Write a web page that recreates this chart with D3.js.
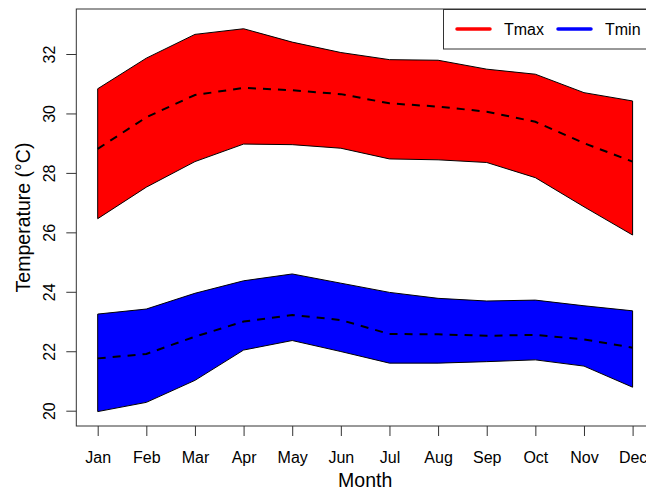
<!DOCTYPE html>
<html>
<head>
<meta charset="utf-8">
<script src="https://cdn.jsdelivr.net/npm/d3@7"></script>
<style>
  html, body { margin: 0; padding: 0; background: #fff; }
  svg { display: block; font-family: "Liberation Sans", Arial, Helvetica, sans-serif; }
</style>
</head>
<body>
<svg id="chart" width="646" height="491"></svg>
<script>
// Monthly temperature ranges (°C)
const months = ["Jan", "Feb", "Mar", "Apr", "May", "Jun", "Jul", "Aug", "Sep", "Oct", "Nov", "Dec"];

const tmaxUpper = [30.83, 31.86, 32.66, 32.85, 32.40, 32.05, 31.81, 31.79, 31.49, 31.32, 30.70, 30.42];
const tmaxMean  = [28.81, 29.87, 30.62, 30.86, 30.78, 30.65, 30.34, 30.23, 30.06, 29.72, 29.00, 28.38];
const tmaxLower = [26.46, 27.52, 28.38, 28.97, 28.95, 28.83, 28.47, 28.44, 28.35, 27.84, 26.86, 25.91];

const tminUpper = [23.25, 23.42, 23.95, 24.37, 24.60, 24.29, 23.98, 23.78, 23.69, 23.72, 23.53, 23.36];
const tminMean  = [21.76, 21.91, 22.49, 23.00, 23.22, 23.05, 22.58, 22.57, 22.52, 22.55, 22.40, 22.12];
const tminLower = [19.97, 20.28, 21.02, 22.04, 22.36, 21.99, 21.60, 21.60, 21.65, 21.71, 21.50, 20.79];

const yTicks = [20, 22, 24, 26, 28, 30, 32];
const seriesNames = ["Tmax", "Tmin"];
const seriesColors = ["#ff0000", "#0000ff"];

const svg = d3.select("#chart");
const plot = { left: 76.3, right: 654, top: 9, bottom: 426 };

const x = d3.scaleLinear().domain([0.56, 12.44]).range([plot.left, plot.right]);
const y = d3.scaleLinear().domain([19.485, 33.514]).range([plot.bottom, plot.top]);

const idx = months.map((m, i) => i + 1);

// Shaded band between lower and upper bounds
function band(lower, upper, color) {
  const area = d3.area()
    .x((d, i) => x(idx[i]))
    .y0((d, i) => y(lower[i]))
    .y1((d, i) => y(upper[i]));
  svg.append("path")
    .attr("d", area(upper) + "")
    .attr("fill", color)
    .attr("stroke", "#000")
    .attr("stroke-width", 1)
    .attr("stroke-linejoin", "miter");
}

function dashed(values) {
  const line = d3.line().x((d, i) => x(idx[i])).y(d => y(d));
  svg.append("path")
    .attr("d", line(values))
    .attr("fill", "none")
    .attr("stroke", "#000")
    .attr("stroke-width", 2)
    .attr("stroke-dasharray", "8,7")
    .attr("stroke-linecap", "butt");
}

band(tmaxLower, tmaxUpper, seriesColors[0]);
band(tminLower, tminUpper, seriesColors[1]);
dashed(tmaxMean);
dashed(tminMean);

// Plot frame
svg.append("rect")
  .attr("x", plot.left).attr("y", plot.top)
  .attr("width", plot.right - plot.left).attr("height", plot.bottom - plot.top)
  .attr("fill", "none").attr("stroke", "#333").attr("stroke-width", 1);

// X axis (ticks below the frame)
const xAxis = d3.axisBottom(x)
  .tickValues(idx)
  .tickFormat((d, i) => months[i])
  .tickSize(10)
  .tickPadding(16);
const gx = svg.append("g").attr("transform", `translate(0,${plot.bottom})`).call(xAxis);
gx.select(".domain").remove();
gx.selectAll(".tick line").attr("stroke", "#333");
gx.selectAll(".tick text").attr("font-size", 16).attr("fill", "#000")
  .attr("font-family", "Liberation Sans, Arial, sans-serif");

// Y axis with rotated tick labels
const yAxis = d3.axisLeft(y).tickValues(yTicks).tickSize(10).tickFormat(d3.format("d"));
const gy = svg.append("g").attr("transform", `translate(${plot.left},0)`).call(yAxis);
gy.select(".domain").remove();
gy.selectAll(".tick line").attr("stroke", "#333");
gy.selectAll(".tick text")
  .attr("font-size", 16).attr("fill", "#000")
  .attr("font-family", "Liberation Sans, Arial, sans-serif")
  .attr("x", null).attr("dy", null)
  .attr("text-anchor", "middle")
  .attr("transform", `translate(${55 - plot.left},0) rotate(-90)`);

// Axis titles
svg.append("text")
  .attr("x", (x(1) + x(12)) / 2).attr("y", 487)
  .attr("text-anchor", "middle")
  .attr("font-size", 19.5)
  .text("Month");

svg.append("text")
  .attr("transform", `translate(30,${(plot.top + plot.bottom) / 2}) rotate(-90)`)
  .attr("text-anchor", "middle")
  .attr("font-size", 19.5)
  .text("Temperature (°C)");

// Legend
const legend = svg.append("g");
legend.append("rect")
  .attr("x", 443.5).attr("y", 9.5).attr("width", 210).attr("height", 39.5)
  .attr("fill", "#fff").attr("stroke", "#333").attr("stroke-width", 1);
const legendX = [457, 558];
seriesNames.forEach((name, i) => {
  legend.append("line")
    .attr("x1", legendX[i]).attr("x2", legendX[i] + 33)
    .attr("y1", 29).attr("y2", 29)
    .attr("stroke", seriesColors[i]).attr("stroke-width", 3.5).attr("stroke-linecap", "round");
  legend.append("text")
    .attr("x", legendX[i] + 47).attr("y", 35)
    .attr("font-size", 16)
    .text(name);
});
</script>
</body>
</html>
